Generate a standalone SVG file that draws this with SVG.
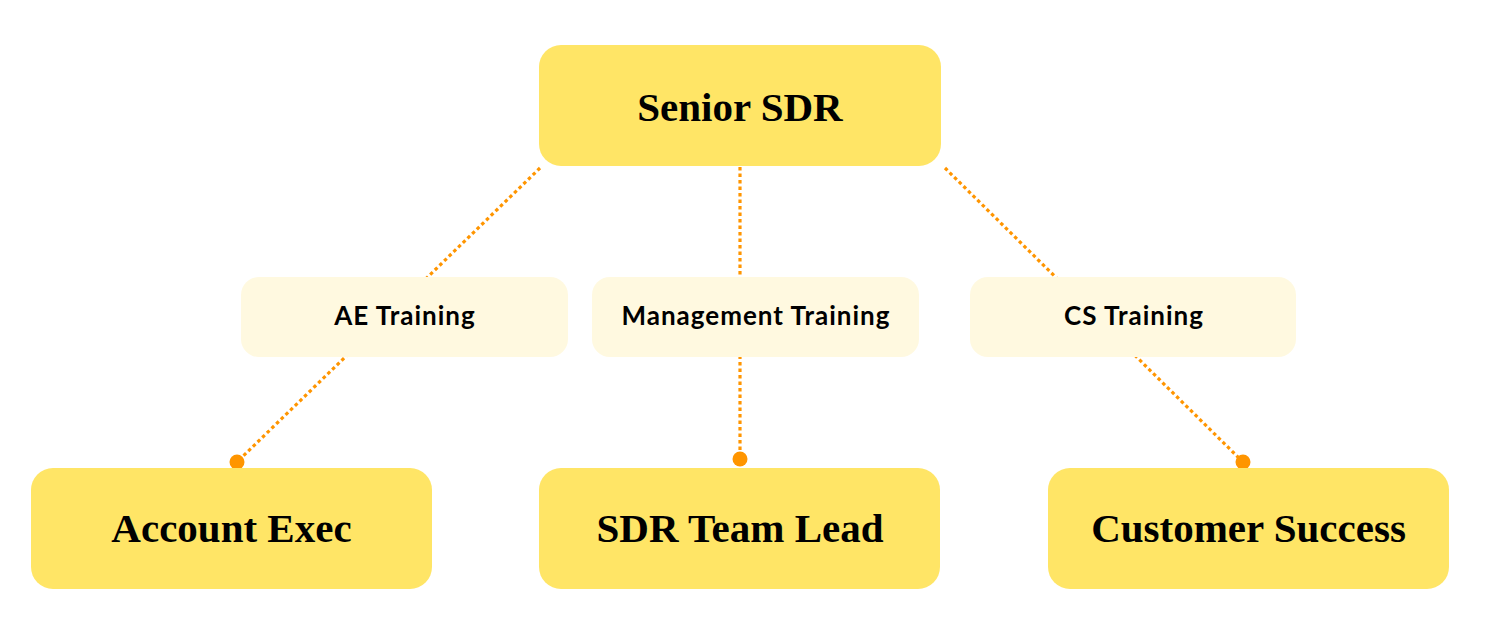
<svg xmlns="http://www.w3.org/2000/svg" width="1485" height="639" viewBox="0 0 1485 639">
<style>
.main{fill:#FFE566}
.sub{fill:#FFF9E0}
.mt{font-family:"Liberation Serif",serif;font-weight:bold;font-size:41px;fill:#000;text-anchor:middle}
.st{font-family:Lato,"Liberation Sans",sans-serif;font-weight:bold;font-size:26px;letter-spacing:1px;fill:#000;text-anchor:middle}
.ln{stroke:#FF9500;stroke-width:3.2;stroke-dasharray:3.5 3;fill:none}
.dot{fill:#FF9500}
</style>
<rect width="1485" height="639" fill="#fff"/>
<g id="connectors">
<line class="ln" x1="540" y1="168" x2="237" y2="462"/>
<line class="ln" x1="740" y1="167" x2="740" y2="459"/>
<line class="ln" x1="945" y1="168" x2="1243" y2="462"/>
<circle class="dot" cx="237" cy="462" r="7.5"/>
<circle class="dot" cx="740" cy="459" r="7.5"/>
<circle class="dot" cx="1243" cy="462" r="7.5"/>
</g>
<g id="senior-sdr"><rect class="main" x="539" y="45" width="402" height="121" rx="22"/><text class="mt" x="740" y="121">Senior SDR</text></g>
<g id="ae-training"><rect class="sub" x="241" y="277" width="327" height="80" rx="18"/><text class="st" x="405" y="325">AE Training</text></g>
<g id="mgmt-training"><rect class="sub" x="592" y="277" width="327" height="80" rx="18"/><text class="st" x="756" y="325">Management Training</text></g>
<g id="cs-training"><rect class="sub" x="970" y="277" width="326" height="80" rx="18"/><text class="st" x="1134" y="325">CS Training</text></g>
<g id="account-exec"><rect class="main" x="31" y="468" width="401" height="121" rx="22"/><text class="mt" x="231.5" y="542">Account Exec</text></g>
<g id="sdr-team-lead"><rect class="main" x="539" y="468" width="401" height="121" rx="22"/><text class="mt" x="740" y="542">SDR Team Lead</text></g>
<g id="customer-success"><rect class="main" x="1048" y="468" width="401" height="121" rx="22"/><text class="mt" x="1248.5" y="542">Customer Success</text></g>
</svg>
